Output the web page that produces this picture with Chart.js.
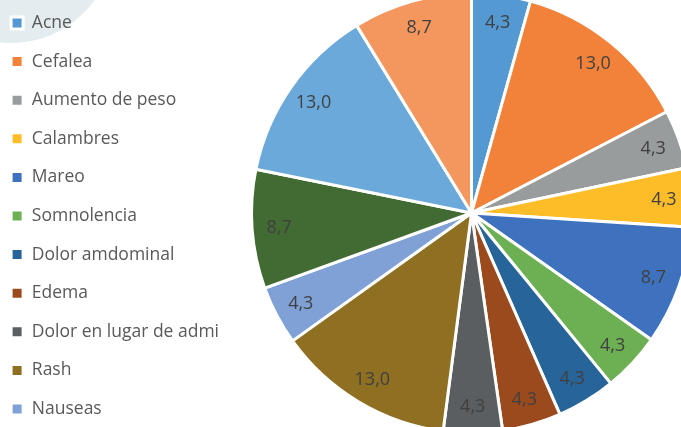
<!DOCTYPE html>
<html>
<head>
<meta charset="utf-8">
<script src="https://cdn.jsdelivr.net/npm/chart.js@4.4.1/dist/chart.umd.min.js"></script>
<style>
  html, body { margin: 0; padding: 0; width: 681px; height: 427px; overflow: hidden; background: #fff; }
  #blob { position: absolute; left: -92px; top: -163px; width: 206px; height: 206px; border-radius: 50%; background: #e3ecef; }
  #wrap { position: absolute; left: -10px; top: -37px; width: 703px; height: 500px; }
</style>
</head>
<body>
<div id="blob"></div>
<div id="wrap"><canvas id="efectos"></canvas></div>
<script>
const categorias = ['Acne', 'Cefalea', 'Aumento de peso', 'Calambres', 'Mareo', 'Somnolencia',
  'Dolor amdominal', 'Edema', 'Dolor en lugar de admi', 'Rash', 'Nauseas',
  'Otro 12', 'Otro 13', 'Otro 14'];
const porcentajes = [4.3, 13.0, 4.3, 4.3, 8.7, 4.3, 4.3, 4.3, 4.3, 13.0, 4.3, 8.7, 13.0, 8.7];
const colores = ['#5599d3', '#f2823a', '#999c9c', '#fdbd29', '#3f72be', '#6cb053',
  '#26649a', '#9b4a1e', '#5a5e60', '#8f7022', '#7fa1d6', '#426a33', '#6ba9da', '#f4975f'];
const enLeyenda = 11; // the last three are cut off in the original legend

const fontFamily = "'Open Sans', sans-serif";

// fixed legend width so the pie lands where it should
const legendWidth = {
  id: 'legendWidth',
  afterInit(chart) {
    const legend = chart.legend;
    const fit = legend.fit.bind(legend);
    legend.fit = function () {
      fit();
      this.width = 260;
    };
  }
};

const valores = {
  id: 'valores',
  afterDatasetsDraw(chart) {
    const ctx = chart.ctx;
    const meta = chart.getDatasetMeta(0);
    ctx.save();
    ctx.font = '18px ' + fontFamily;
    ctx.fillStyle = '#404040';
    ctx.textAlign = 'center';
    ctx.textBaseline = 'middle';
    meta.data.forEach((arc, i) => {
      const p = arc.getProps(['x', 'y', 'startAngle', 'endAngle', 'outerRadius'], true);
      const mid = (p.startAngle + p.endAngle) / 2;
      const r = p.outerRadius * 0.877;
      const txt = porcentajes[i].toFixed(1).replace('.', ',');
      ctx.fillText(txt, p.x + Math.cos(mid) * r, p.y + Math.sin(mid) * r + 1);
    });
    ctx.restore();
  }
};

const ctx = document.getElementById('efectos').getContext('2d');
new Chart(ctx, {
  type: 'pie',
  data: {
    labels: categorias,
    datasets: [{
      data: porcentajes,
      backgroundColor: colores,
      borderColor: '#ffffff',
      borderWidth: 3
    }]
  },
  options: {
    responsive: true,
    maintainAspectRatio: false,
    animation: false,
    layout: { padding: 0 },
    plugins: {
      tooltip: { enabled: false },
      legend: {
        position: 'left',
        align: 'center',
        title: { display: true, text: '', font: { size: 5 }, padding: 0 },
        labels: {
          boxWidth: 12,
          boxHeight: 12,
          padding: 21.1,
          color: '#595959',
          font: { family: fontFamily, size: 17.5 },
          filter: (item) => item.index < enLeyenda
        }
      }
    }
  },
  plugins: [legendWidth, valores]
});
</script>
</body>
</html>
